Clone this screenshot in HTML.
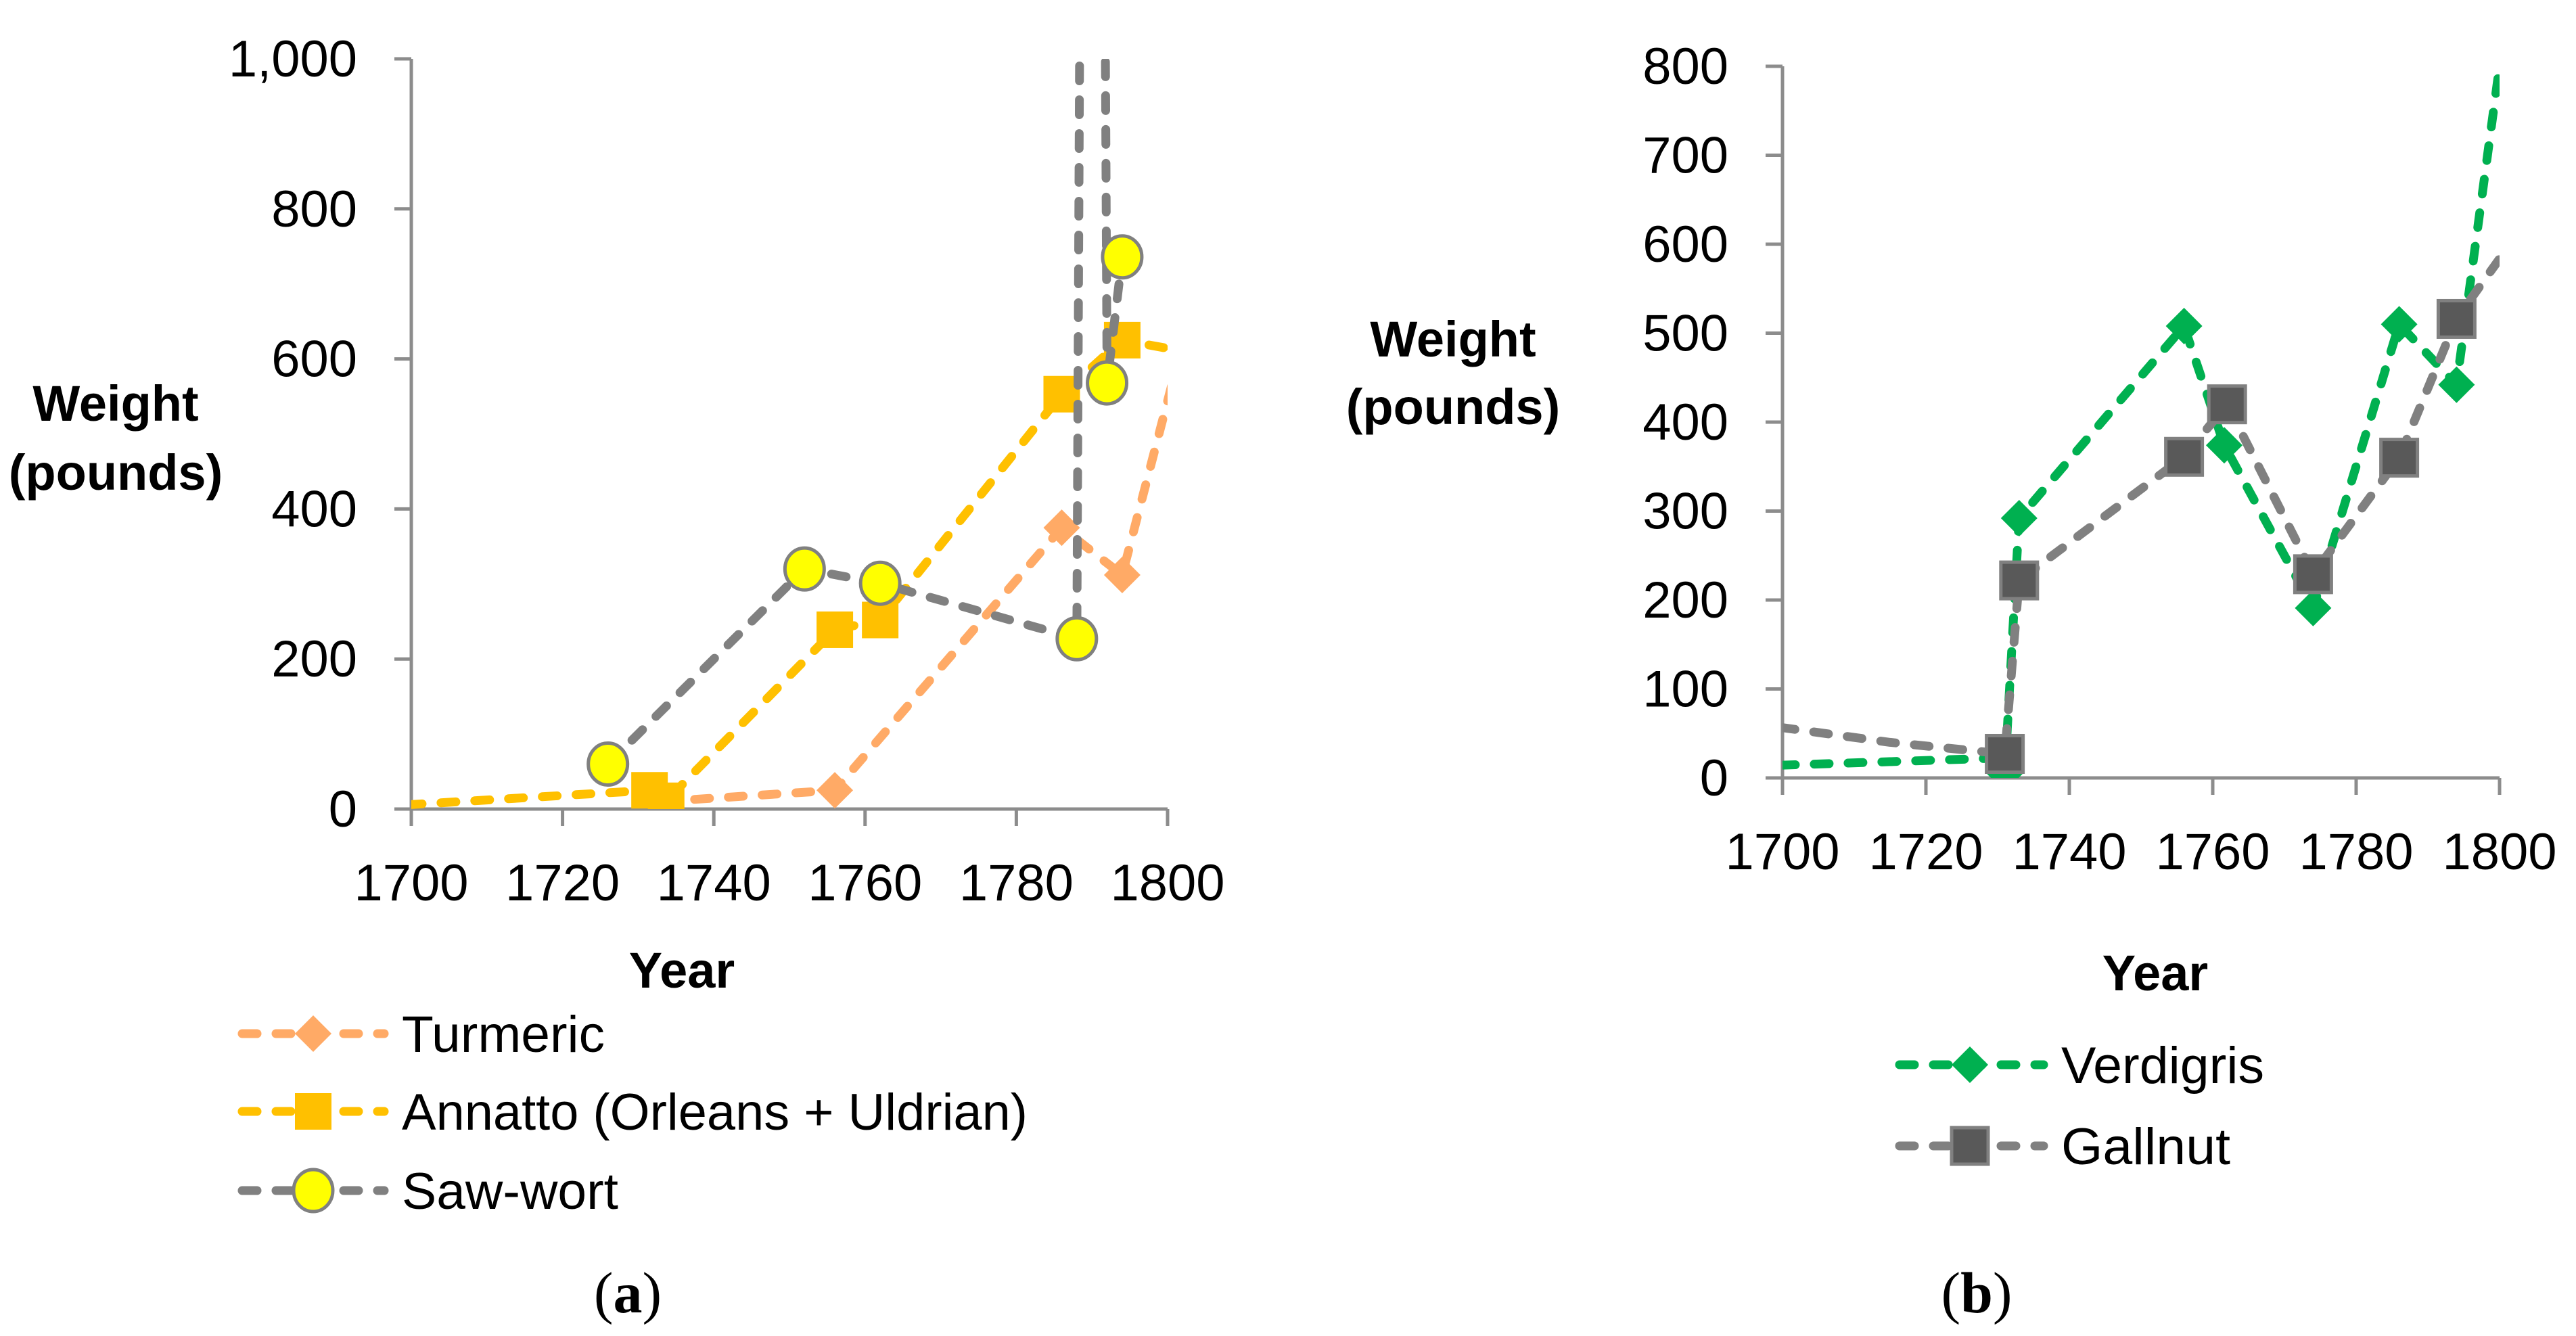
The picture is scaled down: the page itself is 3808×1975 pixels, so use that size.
<!DOCTYPE html>
<html><head><meta charset="utf-8"><style>
html,body{margin:0;padding:0;background:#fff;}
svg{display:block;}
text{font-family:"Liberation Sans",sans-serif;fill:#000;}
</style></head><body>
<svg id="c" width="3808" height="1975" viewBox="0 0 3808 1975" xmlns="http://www.w3.org/2000/svg">
<defs>
<clipPath id="clipA"><rect x="608" y="87" width="1118" height="1109"/></clipPath>
<clipPath id="clipB"><rect x="2635" y="98" width="1060" height="1052"/></clipPath>
</defs>
<g id="gA"></g>
<g id="gB"></g>
<text x="171" y="622" font-size="74" font-weight="bold" text-anchor="middle">Weight</text>
<text x="171" y="724" font-size="74" font-weight="bold" text-anchor="middle">(pounds)</text>
<text x="1008" y="1460" font-size="74" font-weight="bold" text-anchor="middle">Year</text>
<text x="2148" y="527" font-size="74" font-weight="bold" text-anchor="middle">Weight</text>
<text x="2148" y="627" font-size="74" font-weight="bold" text-anchor="middle">(pounds)</text>
<text x="3186" y="1464" font-size="74" font-weight="bold" text-anchor="middle">Year</text>
<text x="928" y="1940" font-size="86" text-anchor="middle" style="font-family:'Liberation Serif',serif">(<tspan font-weight="bold">a</tspan>)</text>
<text x="2922" y="1940" font-size="86" text-anchor="middle" style="font-family:'Liberation Serif',serif">(<tspan font-weight="bold">b</tspan>)</text>
</svg>
<script>
// Chart A data
const yearsTurmeric = [1733, 1756, 1786, 1794, 1803];
const valsTurmeric = [10, 25, 375, 312, 660];
const yearsAnnatto = [1695, 1731.5, 1733.7, 1756, 1762, 1786, 1794, 1805];
const valsAnnatto = [3, 25, 11, 239, 252, 553, 625, 605];
const yearsSaw = [1726, 1752, 1762, 1788, 1790, 1792, 1794];
const valsSaw = [60, 320, 301, 227, 4500, 568, 736];
const ticksA = [0, 200, 400, 600, 800, 1000];
const tickLabelsA = ["0", "200", "400", "600", "800", "1,000"];
// Chart B data
const yearsVerd = [1695, 1729, 1731, 1733, 1756, 1761.6, 1774, 1786, 1794, 1802];
const valsVerd = [13, 22, 5, 292, 508, 374, 191, 510, 442, 920];
const yearsGall = [1695, 1715, 1731, 1733, 1756, 1762, 1774, 1786, 1794, 1805];
const valsGall = [62, 40, 27, 222, 361, 420, 229, 360, 516, 640];
const ticksB = [0, 100, 200, 300, 400, 500, 600, 700, 800];
const xTicks = [1700, 1720, 1740, 1760, 1780, 1800];

const NS = "http://www.w3.org/2000/svg";
function mk(tag, attrs, parent) {
  const e = document.createElementNS(NS, tag);
  for (const k in attrs) e.setAttribute(k, attrs[k]);
  parent.appendChild(e);
  return e;
}
function makeAxes(g, x0, x1, y0, y1, ymax, yTicks, yLabels, xLabelBase, sxf, syf, name) {
  const ax = mk("g", {}, g);
  
  
  mk("line", {x1: x0, y1: y1, x2: x0, y2: y0, stroke: "#8c8c8c", "stroke-width": 5}, ax);
  mk("line", {x1: x0 - 25, y1: y0, x2: x1, y2: y0, stroke: "#8c8c8c", "stroke-width": 5}, ax);
  yTicks.forEach((v, i) => {
    const y = syf(v);
    mk("line", {x1: x0 - 25, y1: y, x2: x0, y2: y, stroke: "#8c8c8c", "stroke-width": 5}, ax);
    const t = mk("text", {x: x0 - 80, y: y + 26, "font-size": 76, "text-anchor": "end"}, ax);
    t.textContent = yLabels[i];
    
    
  });
  xTicks.forEach(v => {
    const x = sxf(v);
    mk("line", {x1: x, y1: y0, x2: x, y2: y0 + 25, stroke: "#8c8c8c", "stroke-width": 5}, ax);
    const t = mk("text", {x: x, y: xLabelBase, "font-size": 76, "text-anchor": "middle"}, ax);
    t.textContent = String(v);
    
    
  });
}
function marker(g, type, x, y, fill, stroke, size) {
  let e;
  if (type === "diamond") {
    const h = size / 2;
    e = mk("polygon", {points: `${x},${y-h} ${x+h},${y} ${x},${y+h} ${x-h},${y}`, fill: fill}, g);
  } else if (type === "square") {
    e = mk("rect", {x: x - size/2, y: y - size/2, width: size, height: size, fill: fill, stroke: stroke || "none", "stroke-width": stroke ? 5 : 0}, g);
  } else {
    e = mk("ellipse", {cx: x, cy: y, rx: size/2 - 1, ry: size/2 + 1, fill: fill, stroke: stroke, "stroke-width": 5}, g);
  }
  return e;
}
function series(g, clip, xs, ys, sxf, syf, color, mType, mFill, mStroke, mSize, name, xmin, xmax) {
  const sg = mk("g", {"clip-path": "url(#" + clip + ")"}, g);
  
  
  const pts = xs.map((x, i) => sxf(x) + "," + syf(ys[i])).join(" ");
  const pl = mk("polyline", {points: pts, fill: "none", stroke: color, "stroke-width": 13, "stroke-dasharray": "22 28", "stroke-linecap": "round", "stroke-linejoin": "round"}, sg);
  
  
  xs.forEach((x, i) => {
    if (x < xmin || x > xmax) return;
    const m = marker(sg, mType, sxf(x), syf(ys[i]), mFill, mStroke, mSize);
    
    
  });
}
function legend(g, x0, x1, xm, y, color, mType, mFill, mStroke, mSize, label, name, tlen) {
  const lg = mk("g", {}, g);
  
  
  mk("line", {x1: x0 + 6, y1: y, x2: x1 - 6, y2: y, stroke: color, "stroke-width": 13, "stroke-dasharray": "22 28", "stroke-linecap": "round"}, lg);
  marker(lg, mType, xm, y, mFill, mStroke, mSize);
  const attrs = {x: x1 + 20, y: y + 27, "font-size": 76};
  if (tlen) { attrs.textLength = tlen; attrs.lengthAdjust = "spacingAndGlyphs"; }
  const t = mk("text", attrs, lg);
  t.textContent = label;
  
  
}

// Chart A
const gA = document.getElementById("gA");
const sxA = v => 608 + (v - 1700) * (1726 - 608) / 100;
const syA = v => 1196 - v * (1196 - 87) / 1000;
makeAxes(gA, 608, 1726, 1196, 87, 1000, ticksA, tickLabelsA, 1331, sxA, syA, "chart-a");
series(gA, "clipA", yearsTurmeric, valsTurmeric, sxA, syA, "#FFAA66", "diamond", "#FFAA66", null, 54, "turmeric", 1740, 1799);
series(gA, "clipA", yearsAnnatto, valsAnnatto, sxA, syA, "#FFC000", "square", "#FFC000", null, 54, "annatto", 1700, 1799);
series(gA, "clipA", yearsSaw, valsSaw, sxA, syA, "#808080", "circle", "#FFFF00", "#808080", 60, "saw-wort", 1700, 1799);
legend(gA, 352, 574, 463, 1528, "#FFAA66", "diamond", "#FFAA66", null, 54, "Turmeric", "turmeric", 300);
legend(gA, 352, 574, 463, 1643, "#FFC000", "square", "#FFC000", null, 54, "Annatto (Orleans + Uldrian)", "annatto", 925);
legend(gA, 352, 574, 463, 1760, "#808080", "circle", "#FFFF00", "#808080", 60, "Saw-wort", "saw-wort", 320);

// Chart B
const gB = document.getElementById("gB");
const sxB = v => 2635 + (v - 1700) * (3695 - 2635) / 100;
const syB = v => 1150 - v * (1150 - 98) / 800;
makeAxes(gB, 2635, 3695, 1150, 98, 800, ticksB, ticksB.map(String), 1285, sxB, syB, "chart-b");
series(gB, "clipB", yearsVerd, valsVerd, sxB, syB, "#00B050", "diamond", "#00B050", null, 54, "verdigris", 1730, 1799);
series(gB, "clipB", yearsGall, valsGall, sxB, syB, "#808080", "square", "#595959", "#808080", 54, "gallnut", 1730, 1799);
legend(gB, 2802, 3027, 2912, 1574, "#00B050", "diamond", "#00B050", null, 54, "Verdigris", "verdigris", 300);
legend(gB, 2802, 3027, 2912, 1694, "#808080", "square", "#595959", "#808080", 54, "Gallnut", "gallnut", 250);
</script>
</body></html>
